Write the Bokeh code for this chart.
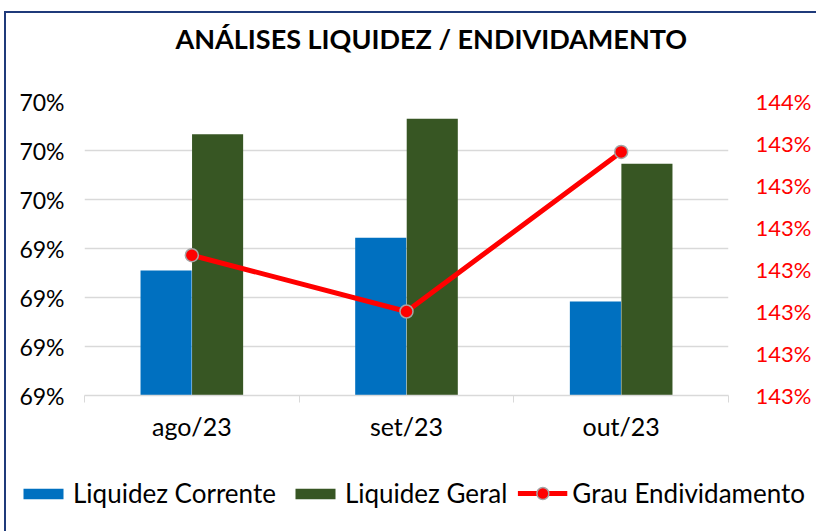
from bokeh.plotting import figure
from bokeh.models import (Range1d, LinearAxis, FixedTicker, Legend, LegendItem,
                          ColumnDataSource, Title)
from bokeh.embed import file_html
from bokeh.resources import INLINE

# ---- data ----
months = ["ago/23", "set/23", "out/23"]
liquidez_corrente = [69.355, 69.422, 69.292]
liquidez_geral = [69.633, 69.665, 69.573]
grau_endividamento = [143.317, 143.250, 143.440]

left_ticks = [69.1, 69.2, 69.3, 69.4, 69.5, 69.6, 69.7]
left_labels = ["69%", "69%", "69%", "69%", "70%", "70%", "70%"]
right_ticks = [143.15, 143.20, 143.25, 143.30, 143.35, 143.40, 143.45, 143.50]
right_labels = ["143%", "143%", "143%", "143%", "143%", "143%", "143%", "144%"]
series_names = ["Liquidez Corrente", "Liquidez Geral", "Grau Endividamento"]
chart_title = "ANÁLISES LIQUIDEZ / ENDIVIDAMENTO"

FONT = "Lato"
BLUE, GREEN, RED, GRAY = "#0070C0", "#375623", "#FF0000", "#A5A5A5"
NAVY = "#1F3A7A"
idx = list(range(len(months)))
centers = [i + 0.5 for i in idx]

src = ColumnDataSource(dict(
    x=centers,
    xc=[c - 0.12 for c in centers],
    xg=[c + 0.12 for c in centers],
    lc=liquidez_corrente,
    lg=liquidez_geral,
    ge=grau_endividamento,
))

p = figure(frame_width=644, frame_height=294, output_backend="svg",
           toolbar_location=None,
           x_range=Range1d(0, len(months)),
           y_range=Range1d(left_ticks[0], left_ticks[-1]),
           min_border_left=78, min_border_right=88, min_border_top=88,
           min_border_bottom=60)
p.extra_y_ranges = {"r": Range1d(right_ticks[0], right_ticks[-1])}
p.styles = {"margin-left": "4px", "margin-top": "11px",
            "border-left": f"2px solid {NAVY}", "border-top": f"2px solid {NAVY}"}

# real title, pushed away from the frame by an empty spacer title
p.title.text = chart_title
p.title.text_font = FONT
p.title.text_font_size = "27px"
p.title.text_font_style = "bold"
p.title.text_color = "#000000"
p.title.align = "left"
p.title.offset = 91
p.add_layout(Title(text=" ", text_font_size="27px"), "above")

p.outline_line_color = None
p.background_fill_color = "white"
p.border_fill_color = "white"

p.vbar(x="xc", top="lc", bottom=left_ticks[0], width=0.238, source=src,
       fill_color=BLUE, line_color=None)
p.vbar(x="xg", top="lg", bottom=left_ticks[0], width=0.238, source=src,
       fill_color=GREEN, line_color=None)
p.line(x="x", y="ge", source=src, y_range_name="r", line_color=RED, line_width=5)
p.scatter(x="x", y="ge", source=src, y_range_name="r", size=13,
          fill_color=RED, line_color=GRAY, line_width=1.5)

# x axis
xa = p.xaxis[0]
xa.ticker = FixedTicker(ticks=centers, minor_ticks=[float(i) for i in range(len(months) + 1)])
xa.major_label_overrides = {c: m for c, m in zip(centers, months)}
xa.major_tick_out = 0
xa.major_tick_in = 0
xa.minor_tick_out = 7
xa.minor_tick_in = 0
xa.minor_tick_line_color = "#D9D9D9"
xa.axis_line_color = "#D9D9D9"
xa.axis_line_width = 1.5
xa.major_label_text_font = FONT
xa.major_label_text_font_size = "25px"
xa.major_label_text_color = "#000000"
xa.major_label_standoff = 8

# left axis
ya = p.yaxis[0]
ya.ticker = FixedTicker(ticks=left_ticks)
ya.major_label_overrides = {t: l for t, l in zip(left_ticks, left_labels)}
ya.axis_line_color = None
ya.major_tick_line_color = None
ya.minor_tick_line_color = None
ya.major_label_text_font = FONT
ya.major_label_text_font_size = "23px"
ya.major_label_text_color = "#000000"
ya.major_label_standoff = 14

# right axis
ra = LinearAxis(y_range_name="r", ticker=FixedTicker(ticks=right_ticks))
ra.major_label_overrides = {t: l for t, l in zip(right_ticks, right_labels)}
ra.axis_line_color = None
ra.major_tick_line_color = None
ra.minor_tick_line_color = None
ra.major_label_text_font = FONT
ra.major_label_text_font_size = "22px"
ra.major_label_text_color = RED
ra.major_label_standoff = 21
p.add_layout(ra, "right")

p.xgrid.grid_line_color = None
p.ygrid.ticker = FixedTicker(ticks=left_ticks)
p.ygrid.grid_line_color = "#D9D9D9"
p.ygrid.grid_line_width = 1.5

# legend strip: the same series, hidden, only so that the legends get swatches
lg = figure(width=810, height=76, output_backend="svg", toolbar_location=None,
            x_range=Range1d(0, len(months)), y_range=Range1d(0, 1),
            x_axis_type=None, y_axis_type=None,
            min_border_left=0, min_border_right=0, min_border_top=0,
            min_border_bottom=0)
lg.styles = {"margin-left": "4px", "border-left": f"2px solid {NAVY}"}
lg.outline_line_color = None
lg.xgrid.visible = False
lg.ygrid.visible = False
r1 = lg.vbar(x="xc", top="lc", bottom=left_ticks[0], width=0.238, source=src,
             fill_color=BLUE, line_color=None, visible=False)
r2 = lg.vbar(x="xg", top="lg", bottom=left_ticks[0], width=0.238, source=src,
             fill_color=GREEN, line_color=None, visible=False)
r3 = lg.line(x="x", y="ge", source=src, line_color=RED, line_width=5,
             visible=False)
r4 = lg.scatter(x="x", y="ge", source=src, size=13, fill_color=RED,
                line_color=GRAY, line_width=1.5, visible=False)


def style_legend(leg, gh, margin):
    leg.label_text_font = FONT
    leg.label_text_font_size = "26px"
    leg.label_text_color = "#000000"
    leg.glyph_width = 50
    leg.glyph_height = gh
    leg.label_standoff = 5
    leg.spacing = 14
    leg.padding = 0
    leg.margin = margin
    leg.border_line_color = None
    leg.background_fill_alpha = 0
    leg.inactive_fill_alpha = 0


leg_bars = Legend(items=[
    LegendItem(label=series_names[0], renderers=[r1]),
    LegendItem(label=series_names[1], renderers=[r2]),
], orientation="horizontal", location="left")
style_legend(leg_bars, 13, 12)
lg.add_layout(leg_bars, "center")

leg_line = Legend(items=[
    LegendItem(label=series_names[2], renderers=[r3, r4]),
], orientation="horizontal", location="right")
style_legend(leg_line, 30, 11)
lg.add_layout(leg_line, "center")

open("out.html", "w").write(file_html([p, lg], INLINE))
